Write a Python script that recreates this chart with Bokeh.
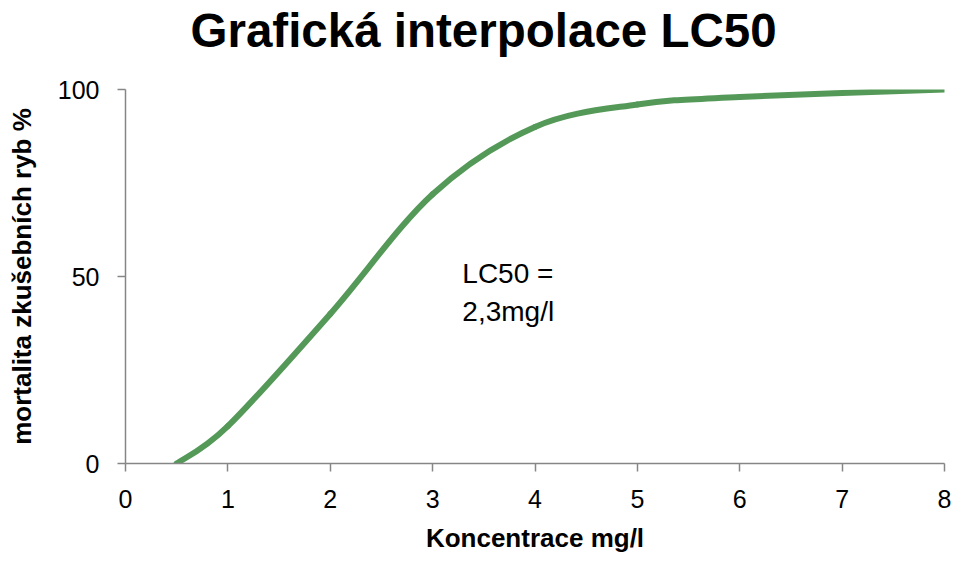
import numpy as np
from bokeh.plotting import figure
from bokeh.models import Range1d, FixedTicker, Label, Title
from bokeh.embed import file_html
from bokeh.resources import INLINE

# ---- data ----
conc = [0.5, 1, 2, 3, 4, 5, 6, 8]          # Koncentrace mg/l
mortality = [0, 10, 40, 72, 90, 96, 98, 100]  # mortalita %
x_ticks = [0, 1, 2, 3, 4, 5, 6, 7, 8]
y_ticks = [0, 50, 100]
title_text = "Grafická interpolace LC50"
x_label = "Koncentrace mg/l"
y_label = "mortalita zkušebních ryb %"
note_lines = ["LC50 =", "2,3mg/l"]

# ---- smoothed-line control points (Excel style smoothing) ----
xs = np.array(conc, float)
ys = np.array(mortality, float)
n = len(xs)
xp = np.concatenate([[xs[0]], xs, [xs[-1]]])
yp = np.concatenate([[ys[0]], ys, [ys[-1]]])
x0, y0 = xp[1:n], yp[1:n]
x1, y1 = xp[2:n + 1], yp[2:n + 1]
cx0 = xp[1:n] + (xp[2:n + 1] - xp[0:n - 1]) / 6
cy0 = yp[1:n] + (yp[2:n + 1] - yp[0:n - 1]) / 6
cx1 = xp[2:n + 1] - (xp[3:n + 2] - xp[1:n]) / 6
cy1 = yp[2:n + 1] - (yp[3:n + 2] - yp[1:n]) / 6

FONT = "Liberation Sans"
AXIS_GRAY = "#868686"
GREEN = "#559959"

p = figure(width=951, height=555, x_range=Range1d(0, 8), y_range=Range1d(0, 100),
           output_backend="svg", toolbar_location=None,
           min_border_left=125, min_border_right=7, min_border_top=89, min_border_bottom=92)
p.outline_line_color = None
p.xgrid.visible = False
p.ygrid.visible = False
p.background_fill_color = "white"
p.border_fill_color = "white"

p.xaxis.ticker = FixedTicker(ticks=x_ticks)
p.yaxis.ticker = FixedTicker(ticks=y_ticks)
for ax in (p.xaxis[0], p.yaxis[0]):
    ax.axis_line_color = AXIS_GRAY
    ax.axis_line_width = 1.5
    ax.major_tick_line_color = AXIS_GRAY
    ax.major_tick_line_width = 1.5
    ax.major_tick_out = 8
    ax.major_tick_in = 0
    ax.minor_tick_line_color = None
    ax.major_label_text_font = FONT
    ax.major_label_text_font_size = "25px"
    ax.major_label_text_color = "black"
    ax.axis_label_text_font = FONT
    ax.axis_label_text_font_size = "26px"
    ax.axis_label_text_font_style = "bold"
    ax.axis_label_text_color = "black"

p.xaxis.axis_label = x_label
p.yaxis.axis_label = y_label
p.xaxis.major_label_standoff = 18
p.xaxis.axis_label_standoff = 12
p.yaxis.major_label_standoff = 18
p.yaxis.axis_label_standoff = 18

p.bezier(x0=x0, y0=y0, x1=x1, y1=y1, cx0=cx0, cy0=cy0, cx1=cx1, cy1=cy1,
         line_color=GREEN, line_width=6, line_cap="round")

# spacer between frame and title, then the title itself (stacked outward)
p.add_layout(Title(text=" ", text_font=FONT, text_font_size="25.5px", standoff=0), "above")
p.add_layout(Title(text=title_text, text_font=FONT, text_font_size="47.5px",
                   text_font_style="bold", text_color="black", align="left", offset=65,
                   vertical_align="top", standoff=2), "above")

p.add_layout(Label(x=3.29, y=50.9, text=note_lines[0], text_font=FONT, text_font_size="28px",
                   text_baseline="alphabetic", text_color="black"))
p.add_layout(Label(x=3.29, y=40.7, text=note_lines[1], text_font=FONT, text_font_size="28px",
                   text_baseline="alphabetic", text_color="black"))

open("out.html", "w").write(file_html(p, INLINE))
